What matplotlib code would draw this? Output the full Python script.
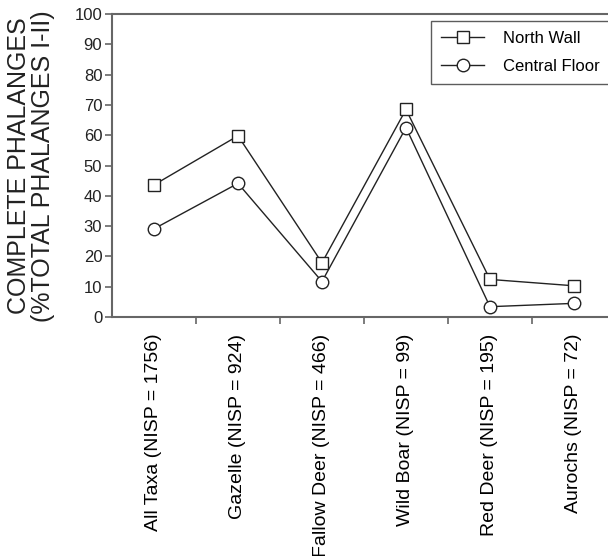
import matplotlib
matplotlib.use("Agg")
import matplotlib.pyplot as plt
from matplotlib.ticker import FixedLocator

# ── Data ─────────────────────────────────────────────────────────────────────
categories = [
    "All Taxa (NISP = 1756)",
    "Gazelle (NISP = 924)",
    "Fallow Deer (NISP = 466)",
    "Wild Boar (NISP = 99)",
    "Red Deer (NISP = 195)",
    "Aurochs (NISP = 72)",
]
north_wall = [43.6, 59.8, 17.9, 68.5, 12.4, 10.3]
central_floor = [29.1, 44.1, 11.7, 62.5, 3.4, 4.5]
y_ticks = [0, 10, 20, 30, 40, 50, 60, 70, 80, 90, 100]

plt.rcParams["font.family"] = ["Liberation Sans", "DejaVu Sans"]

W, H = 608, 556
fig = plt.figure(figsize=(W / 100, H / 100), dpi=100, facecolor="white")
# axes run past the right edge: the reference is cropped there
ax = fig.add_axes([112 / W, 1 - 317 / H, 530 / W, 303 / H])

x = list(range(len(categories)))
ax.plot(x, north_wall, color="#222222", linewidth=1.0, marker="s",
        markersize=9, markerfacecolor="white", markeredgecolor="#222222",
        markeredgewidth=1.0, label="North Wall")
ax.plot(x, central_floor, color="#222222", linewidth=1.0, marker="o",
        markersize=9, markerfacecolor="white", markeredgecolor="#222222",
        markeredgewidth=1.0, label="Central Floor")

ax.set_xlim(-0.5, 5.81)
ax.set_ylim(0, 100)
ax.set_yticks(y_ticks)
ax.set_xticks(x)
ax.set_xticklabels(categories, rotation=90, fontsize=14, va="top")
ax.xaxis.set_minor_locator(FixedLocator([i + 0.5 for i in x]))
ax.tick_params(axis="x", which="major", length=0, pad=12)
ax.tick_params(axis="x", which="minor", length=5, direction="out",
               color="#666666", width=1.2)
ax.tick_params(axis="y", length=5, direction="out", color="#666666",
               width=1.2, labelsize=12, pad=2, labelcolor="#222222")

for side in ["left", "bottom", "top", "right"]:
    ax.spines[side].set_color("#666666")
    ax.spines[side].set_linewidth(1.5)

fig.text(0.051, 1 - 166 / H, "COMPLETE PHALANGES\n(%TOTAL PHALANGES I-II)",
         rotation=90, ha="center", va="center", fontsize=18,
         linespacing=0.95, color="#222222")

leg = ax.legend(loc="upper left", bbox_to_anchor=(431 / W, 1 - 21 / H),
                bbox_transform=fig.transFigure, fontsize=12,
                fancybox=False, frameon=True, handlelength=2.6,
                borderpad=0.6, labelspacing=0.8, handletextpad=1.1,
                borderaxespad=0)
leg.get_frame().set_edgecolor("#333333")
leg.get_frame().set_linewidth(1.0)

plt.savefig("out.png", dpi=100, facecolor="white")
plt.close()
